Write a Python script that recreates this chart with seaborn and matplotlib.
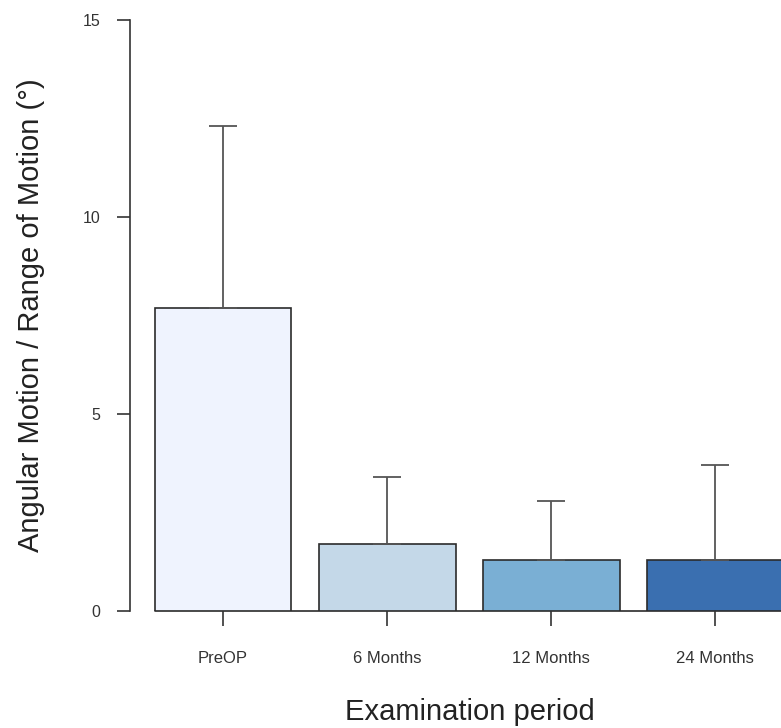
import numpy as np
import pandas as pd
import matplotlib
matplotlib.use("Agg")
import matplotlib.pyplot as plt
import seaborn as sns

periods = ["PreOP", "6 Months", "12 Months", "24 Months"]
mean_motion = [7.7, 1.7, 1.3, 1.3]
sd_motion = [4.6, 1.7, 1.5, 2.4]
bar_colors = ["#EFF3FE", "#C4D8E8", "#7AAFD4", "#3A6FB0"]

sns.set_style("white")
plt.rcParams["font.family"] = ["Liberation Sans", "DejaVu Sans"]

df = pd.DataFrame({"period": periods, "motion": mean_motion})

fig = plt.figure(figsize=(7.81, 7.28), dpi=100)
ax = fig.add_axes([0.1665, 0.1607, 0.8335, 0.8118])

sns.barplot(data=df, x="period", y="motion", hue="period", palette=bar_colors,
            order=periods, errorbar=None, width=0.833, saturation=1,
            edgecolor="#2b2b2b", linewidth=1.2, legend=False, ax=ax)

# upper error bars only
ax.errorbar(np.arange(len(periods)), mean_motion,
            yerr=[np.zeros(len(periods)), sd_motion],
            fmt="none", ecolor="#555555", elinewidth=1.3, capsize=10.4,
            capthick=1.3, zorder=1)

# baseline from the first bar on
ax.plot([-0.4165, 3.6], [0, 0], color="#2b2b2b", lw=1.2, clip_on=False, zorder=0)

ax.set_xlim(-0.567, 3.40)
ax.set_ylim(0, 15)
ax.set_yticks([0, 5, 10, 15])

for s in ["top", "right", "bottom"]:
    ax.spines[s].set_visible(False)
ax.spines["left"].set_color("#333333")
ax.spines["left"].set_linewidth(1.2)

ax.tick_params(axis="y", length=9.4, width=1.2, color="#333333", pad=12,
               labelsize=11.5, labelcolor="#333333", left=True)
ax.tick_params(axis="x", length=10.8, width=1.2, color="#333333", pad=18,
               labelsize=12, labelcolor="#333333", bottom=True)

ax.set_xlabel("Examination period", fontsize=21, color="#222222")
ax.set_ylabel("Angular Motion / Range of Motion (°)", fontsize=21, color="#222222")
ax.xaxis.set_label_coords(0.522, -0.148)
ax.yaxis.set_label_coords(-0.131, 0.5)

fig.savefig("out.png", dpi=100)
